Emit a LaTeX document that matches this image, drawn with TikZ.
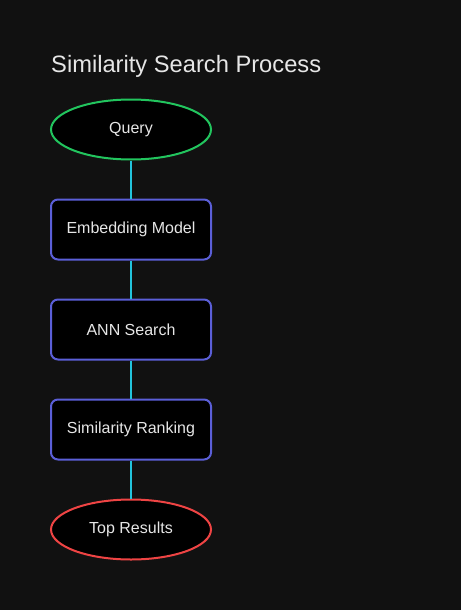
\documentclass[tikz,border=0pt]{standalone}
\usepackage{fontspec}
\setmainfont{Liberation Sans}
\usetikzlibrary{positioning,shapes.geometric}
\definecolor{bg}{HTML}{111111}
\definecolor{txt}{HTML}{E6E6E6}
\definecolor{startc}{HTML}{22C55E}
\definecolor{stepc}{HTML}{5B5FD8}
\definecolor{endc}{HTML}{EF4444}
\definecolor{linec}{HTML}{22C3DC}
\tikzset{
  stepbox/.style={draw=stepc, line width=2pt, fill=black, rounded corners=7pt, minimum width=160pt, minimum height=60pt, text=txt, font=\fontsize{16}{19}\selectfont},
  endpoint/.style={ellipse, line width=2pt, fill=black, minimum width=160pt, minimum height=60pt, inner sep=0pt, text=txt, font=\fontsize{16}{19}\selectfont},
  link/.style={draw=linec, line width=2pt}
}
\begin{document}
\begin{tikzpicture}[x=1pt,y=1pt,on grid,node distance=100pt]
\fill[bg] (0,0) rectangle (461,-610);
\useasboundingbox (0,0) rectangle (461,-610);
\node[anchor=base west, text=txt, font=\fontsize{23.7}{28}\selectfont, inner sep=0pt] (title) at (51,-73) {Similarity Search Process};
\node[endpoint, draw=startc] (query) at (131,-129.5) {Query};
\node[stepbox, below=of query] (embed) {Embedding Model};
\node[stepbox, below=of embed] (ann) {ANN Search};
\node[stepbox, below=of ann] (rank) {Similarity Ranking};
\node[endpoint, draw=endc, below=of rank] (results) {Top Results};
\draw[link] (query) -- (embed);
\draw[link] (embed) -- (ann);
\draw[link] (ann) -- (rank);
\draw[link] (rank) -- (results);
\end{tikzpicture}
\end{document}
